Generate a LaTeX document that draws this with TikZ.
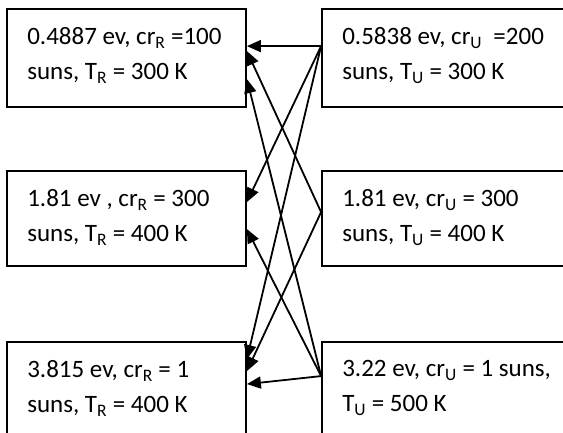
\documentclass[tikz,border=0pt]{standalone}
\usepackage{fontspec}
\setmainfont{Carlito}
\usetikzlibrary{arrows.meta, positioning, calc}

\begin{document}
\begin{tikzpicture}[
    x=1pt, y=1pt,
    box/.style={draw, line width=1.8pt, minimum width=239pt, minimum height=98pt, inner sep=0pt},
    txt/.style={anchor=north west, align=left, font=\fontsize{25}{35}\selectfont, inner sep=0pt},
    arrow/.style={-{Triangle[length=14pt, width=12pt]}, line width=1.8pt},
]
\useasboundingbox (0,0) rectangle (563,433);
\clip (0,0) rectangle (563,433);

\node[box] (lone) at (126.5, 375) {};
\node[box, minimum height=95pt] (ltwo) at (126.5, 214.5) {};
\node[box] (lthree) at (126.5, 42) {};
\node[box, minimum width=250pt] (rone) at (447, 375) {};
\node[box, minimum width=250pt, minimum height=95pt] (rtwo) at (447, 214.5) {};
\node[box, minimum width=250pt] (rthree) at (447, 42) {};

\node[txt] (lonetxt) at ([shift={(21,-19)}]lone.north west) {0.4887 ev, cr\textsubscript{R} =100\\suns, T\textsubscript{R} = 300 K};
\node[txt] (ltwotxt) at ([shift={(21,-19)}]ltwo.north west) {1.81 ev , cr\textsubscript{R} = 300\\suns, T\textsubscript{R} = 400 K};
\node[txt] (lthreetxt) at ([shift={(21,-19)}]lthree.north west) {3.815 ev, cr\textsubscript{R} = 1\\suns, T\textsubscript{R} = 400 K};
\node[txt] (ronetxt) at ([shift={(21,-19)}]rone.north west) {0.5838 ev, cr\textsubscript{U}~ =200\\suns, T\textsubscript{U} = 300 K};
\node[txt] (rtwotxt) at ([shift={(21,-19)}]rtwo.north west) {1.81 ev, cr\textsubscript{U} = 300\\suns, T\textsubscript{U} = 400 K};
\node[txt] (rthreetxt) at ([shift={(21,-19)}]rthree.north west) {3.22 ev, cr\textsubscript{U} = 1 suns,\\T\textsubscript{U} = 500 K};

\draw[arrow] ([yshift=-38]rone.north west) -- ([yshift=-38]lone.north east);
\draw[arrow] ([yshift=-38]rone.north west) -- ([yshift=-32]ltwo.north east);
\draw[arrow] ([yshift=-38]rone.north west) -- ([yshift=-18]lthree.north east);

\draw[arrow] ([yshift=-42]rtwo.north west) -- ([yshift=-43]lone.north east);
\draw[arrow] ([yshift=-42]rtwo.north west) -- ([yshift=-30]lthree.north east);

\draw[arrow] ([yshift=-35]rthree.north west) -- ([yshift=-71]lone.north east);
\draw[arrow] ([yshift=-35]rthree.north west) -- ([yshift=-59]ltwo.north east);
\draw[arrow] ([yshift=-35]rthree.north west) -- ([yshift=-43]lthree.north east);

\end{tikzpicture}
\end{document}
